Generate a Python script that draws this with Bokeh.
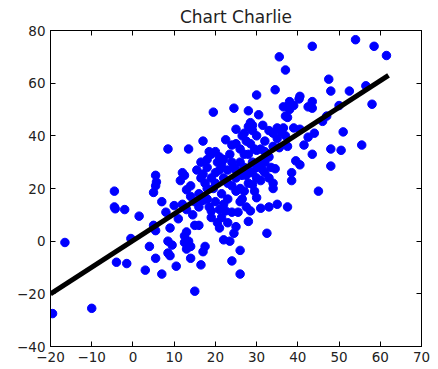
from bokeh.plotting import figure
from bokeh.models import LinearAxis, Range1d, FixedTicker, CustomJSTickFormatter
from bokeh.embed import file_html
from bokeh.resources import INLINE

title_text = "Chart Charlie"
x_ticks = [-20, -10, 0, 10, 20, 30, 40, 50, 60, 70]
y_ticks = [-40, -20, 0, 20, 40, 60, 80]

pts = [
    (-19.5, -27.5), (-10, -25.5), (-16.5, -0.5), (-4.5, 19), (-4.5, 13), (-4.3, 12.3),
    (-2, 12), (-4, -8), (-1.5, -8.5), (1.5, 9.5), (-0.5, 1), (3, -11), (4, -2),
    (5.5, -6.5), (7, -12.5), (5, 6), (5.5, 4), (5, 18.5), (5.5, 21), (5.7, 22.5),
    (5.5, 25), (7, 15), (8, 11), (8.5, 35), (9, 5), (8.5, 0), (9.5, -1.5), (8.5, -4.5),
    (9, -5.5), (10.5, -9.5), (10, 13.5), (11.5, 23), (12, 26), (12.5, 25), (11, 8.5),
    (12.5, 2), (12.5, -0.5), (13, 3.5), (13.5, 0), (13, -3), (14, -2), (14, -6.5),
    (15, -19), (13.5, 35), (13, 19.5), (15, 6), (16.5, -9), (17, -4), (17.5, -2),
    (17, 38), (19.5, 49), (15, 15), (16, 18), (14, 17), (12, 14), (13, 12), (14.5, 10),
    (16, 13), (17, 15.5), (24.5, 50.5), (25, 42.5), (28, 49.5), (28.5, 45), (28, 43.5),
    (29, 44), (30, 55.5), (30.5, 48), (34.5, 57.5), (35.5, 70), (37, 65), (43.5, 74),
    (54, 76.5), (58.5, 74), (61.5, 70.5), (47.5, 61.5), (48, 57), (52.5, 57), (56.5, 59),
    (58, 52), (50, 51.5), (51, 41.5), (55.5, 36.5), (50.5, 34.5), (48, 35), (48, 28.5),
    (45, 19), (43.5, 33), (44, 41), (42.5, 39.5), (41.5, 36.5), (40.5, 55), (40.3, 54),
    (43.5, 53), (43.5, 50.5), (42.5, 51), (38, 53), (39, 51.5), (38, 50), (37, 47.5),
    (36.5, 51), (37.5, 47), (46, 45.5), (47, 47.5), (39, 43), (40.5, 42.5), (39.5, 30.5),
    (40.5, 29), (38.5, 26), (38.5, 23), (37.5, 13), (35, 14), (33, 13), (32.5, 3),
    (31, 12.5), (30, 16.5), (29.5, 19), (28.5, 11.5), (27.5, 13), (28, 7.5), (26, 15),
    (26.5, 16), (25.5, 11), (24.5, 3), (25, 5.5), (26, -3.5), (26, -12.5), (24, -7.5),
    (23.5, 0), (22, 0.5), (21, 5), (20.5, 7), (23, 7), (22.5, 11.5), (21, 12), (19, 11.5),
    (18.5, 13), (20, 15), (22, 14), (24, 11), (18, 16), (17.5, 22), (16.5, 24), (17, 25.5),
    (18, 31), (19, 33), (18.5, 34), (20, 34), (21, 32), (22, 31), (20, 26), (21, 27),
    (22, 24), (23, 27), (21.5, 29), (19.5, 20), (23, 22), (24, 21), (25, 19), (26, 20),
    (27, 19), (22.5, 38.5), (24, 36.5), (25, 37), (26.5, 40), (27, 41), (28.5, 37),
    (29, 42), (26, 35), (27, 33), (29, 30), (30, 28), (31, 29), (32, 30), (33, 32),
    (28, 27), (27.5, 25), (26.5, 25), (25, 27), (24.5, 28), (30, 34.5), (31, 35), (32, 34),
    (33, 42), (34, 41), (35, 43), (36.5, 43), (37, 40), (34, 36), (35.5, 35.5), (37.5, 36),
    (33.5, 28), (34.5, 27.5), (34, 22), (34, 20), (33, 24), (32, 26), (31, 23), (30, 24),
    (28, 22), (29, 21.5), (18, 28), (19, 24), (20.5, 30), (23.5, 33), (24, 30), (26, 30),
    (28, 33), (29.5, 35), (27.5, 38), (30, 40), (31.5, 44), (35, 39), (36, 41.5),
    (32, 38), (18, 20), (20, 22), (21.5, 18), (23, 16), (25, 24), (27, 28), (29, 26),
    (31.5, 27), (19, 9), (21.5, 9), (16, 6), (14, 21), (15.5, 27), (16.5, 30),
]
x_vals = [p[0] for p in pts]
y_vals = [p[1] for p in pts]

fit_slope = 1.012
fit_intercept = 0.24
fit_x = [-20, 62]
fit_y = [fit_slope * v + fit_intercept for v in fit_x]

p = figure(width=438, height=369, output_backend="svg", toolbar_location=None,
           x_range=Range1d(-20, 70), y_range=Range1d(-40, 80),
           min_border_left=50, min_border_right=17, min_border_top=30, min_border_bottom=23)
p.title.text = title_text
p.title.align = "center"
p.title.text_font = "DejaVu Sans"
p.title.text_font_size = "17px"
p.title.text_font_style = "normal"
p.title.text_color = "#222222"
p.title.offset = 0
p.title.standoff = 8

p.xgrid.visible = False
p.ygrid.visible = False
p.outline_line_color = "black"
p.outline_line_width = 1
p.background_fill_color = "white"
p.border_fill_color = "white"

fmt = CustomJSTickFormatter(code="return tick < 0 ? '\u2212' + Math.abs(tick) : String(tick);")
blank = CustomJSTickFormatter(code="return '';")

for ax, ticks in ((p.xaxis[0], x_ticks), (p.yaxis[0], y_ticks)):
    ax.ticker = FixedTicker(ticks=ticks)
    ax.formatter = fmt
    ax.major_tick_in = 5
    ax.major_tick_out = 0
    ax.minor_tick_line_color = None
    ax.axis_line_color = "black"
    ax.major_tick_line_color = "black"
    ax.major_label_text_font = "DejaVu Sans"
    ax.major_label_text_font_size = "13.5px"
    ax.major_label_text_color = "#222222"
    ax.major_label_standoff = 5

top = LinearAxis(ticker=FixedTicker(ticks=x_ticks), major_tick_in=5, major_tick_out=0,
                 minor_tick_line_color=None, formatter=blank, major_label_standoff=0,
                 axis_line_color="black")
right = LinearAxis(ticker=FixedTicker(ticks=y_ticks), major_tick_in=5, major_tick_out=0,
                   minor_tick_line_color=None, formatter=blank, major_label_standoff=0,
                   axis_line_color="black")
p.add_layout(top, "above")
p.add_layout(right, "right")

p.scatter(x_vals, y_vals, size=8.5, fill_color="#0000ff", line_color="#0000ff")
p.line(fit_x, fit_y, line_color="black", line_width=5)

open("out.html", "w").write(file_html(p, INLINE))
